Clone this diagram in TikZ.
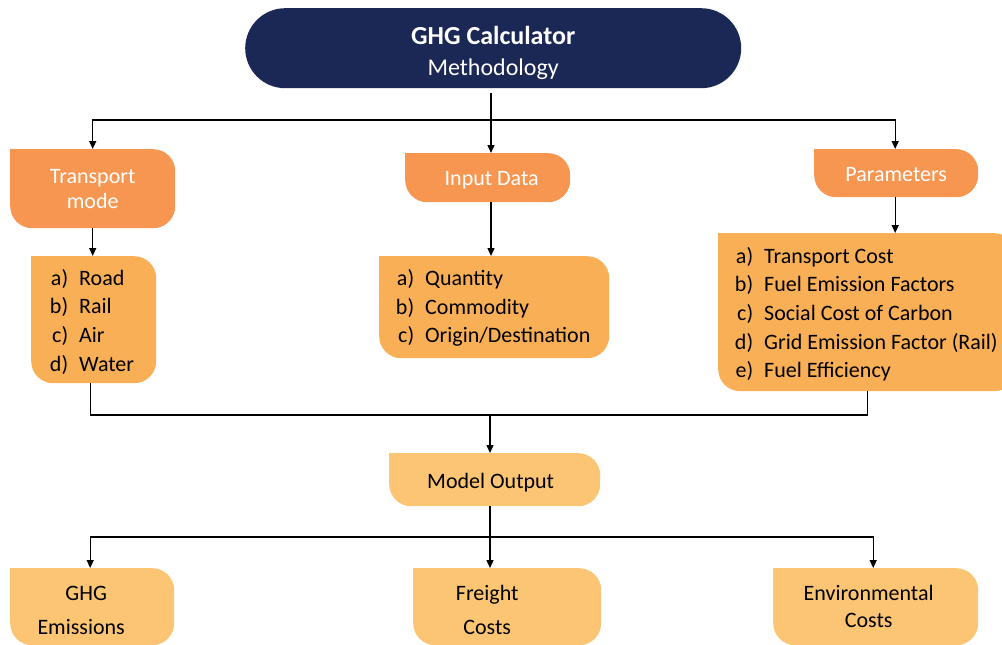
\documentclass[tikz,border=0pt]{standalone}
\usepackage{fontspec}
\setmainfont{Carlito}
\usetikzlibrary{arrows.meta}
\pgfdeclarelayer{background}
\pgfsetlayers{background,main}

\definecolor{navy}{HTML}{1B2755}
\definecolor{darkor}{HTML}{F79651}
\definecolor{midor}{HTML}{F9AF55}
\definecolor{lightor}{HTML}{FBC574}

\tikzset{
  box/.style={inner sep=0pt, anchor=north west, rounded corners=22pt, align=center},
  headbox/.style={box, fill=darkor, text=white, font=\fontsize{22}{26}\selectfont},
  listbox/.style={box, fill=midor},
  outbox/.style={box, fill=lightor, font=\fontsize{22}{26}\selectfont},
  listtext/.style={inner sep=0pt, anchor=west, align=left, font=\fontsize{22}{28.6}\selectfont},
  wire/.style={line width=1.4pt},
  arr/.style={wire, -{Triangle[width=7pt,length=8pt]}},
}

% square off the upper left corner of a box
\newcommand\sqcorner[2]{%
  \begin{pgfonlayer}{background}
    \fill[#2] (#1.north west) rectangle (#1.center);
  \end{pgfonlayer}}
\newcommand\itm[2]{\makebox[18pt][r]{#1}\hspace{11pt}#2}
% invisible strut that lowers a line of text inside its box
\newcommand\lift[1]{\rule{0pt}{#1}}
% moves a centred line sideways by half the given amount
\newcommand\nudge[1]{\kern#1\relax}

\begin{document}
\begin{tikzpicture}[x=1pt,y=-1pt]
\useasboundingbox (0,0) rectangle (1002,645);
\clip (0,0) rectangle (1002,645);

% title
\node[inner sep=0pt, anchor=north west, fill=navy, rounded corners=40pt,
      minimum width=496pt, minimum height=80pt, text=white, align=center,
      font=\fontsize{24}{31}\selectfont] (title) at (245,8)
      {\lift{28pt}{\fontsize{26}{31}\selectfont\bfseries GHG Calculator}\\Methodology};

% first level
\node[headbox, minimum width=165pt, minimum height=79pt] (tm) at (10,149) {Transport\\[-1pt]mode};
\sqcorner{tm}{darkor}
\node[headbox, minimum width=165pt, minimum height=49pt] (indata) at (405,153) {\lift{20pt}\nudge{8pt}Input Data};
\sqcorner{indata}{darkor}
\node[headbox, minimum width=164pt, minimum height=48pt] (param) at (814,149) {\lift{17pt}Parameters};
\sqcorner{param}{darkor}

% lists
\node[listbox, minimum width=125pt, minimum height=127pt] (tml) at (31,256) {};
\sqcorner{tml}{midor}
\node[listtext] (tmt) at ([xshift=19pt,yshift=-2pt]tml.west)
  {\itm{a)}{Road}\\\itm{b)}{Rail}\\\itm{c)}{Air}\\\itm{d)}{Water}};

\node[listbox, minimum width=230pt, minimum height=102pt] (inl) at (379,256) {};
\sqcorner{inl}{midor}
\node[listtext] (int) at ([xshift=17pt,yshift=-1pt]inl.west)
  {\itm{a)}{Quantity}\\\itm{b)}{Commodity}\\\itm{c)}{Origin/Destination}};

\node[listbox, minimum width=298pt, minimum height=158pt] (pal) at (718,233) {};
\sqcorner{pal}{midor}
\node[listtext] (pat) at ([xshift=17pt,yshift=-2pt]pal.west)
  {\itm{a)}{Transport Cost}\\\itm{b)}{Fuel Emission Factors}\\\itm{c)}{Social Cost of Carbon}\\\itm{d)}{Grid Emission Factor (Rail)}\\\itm{e)}{Fuel Efficiency}};

% model output
\node[outbox, minimum width=211pt, minimum height=53pt] (model) at (389,453) {\lift{22pt}\nudge{-8pt}Model Output};
\sqcorner{model}{lightor}

% results
\node[outbox, minimum width=164pt, minimum height=77pt, font=\fontsize{22}{34}\selectfont] (ghg) at (10,568)
  {\lift{21pt}\nudge{-12pt}GHG\\\nudge{-22pt}Emissions};
\sqcorner{ghg}{lightor}
\node[outbox, minimum width=188pt, minimum height=77pt, font=\fontsize{22}{34}\selectfont] (fre) at (413,568)
  {\lift{22pt}\nudge{-40pt}Freight\\\nudge{-40pt}Costs};
\sqcorner{fre}{lightor}
\node[outbox, minimum width=205pt, minimum height=77pt, font=\fontsize{22}{27}\selectfont] (env) at (773,568)
  {\nudge{-14pt}Environmental\\\nudge{-14pt}Costs};
\sqcorner{env}{lightor}

% junction points
\coordinate (j1) at (491,120);
\coordinate (j2) at (490,415);
\coordinate (j3) at (490,537);

% title to first level
\draw[wire] ([yshift=-5pt]title.south -| j1) -- (j1);
\draw[arr] (j1) -| (tm.north);
\draw[arr] (j1) -- (indata.north -| j1);
\draw[arr] (j1) -| ([xshift=-1pt]param.north);

% first level to lists
\draw[arr] (tm.south) -- (tml.north -| tm.south);
\draw[arr] (indata.south -| j1) -- (inl.north -| j1);
\draw[arr] ([xshift=-1pt]param.south) -- ([xshift=-1pt]param.south |- pal.north);

% lists merge into model output
\draw[wire] ([xshift=-3.5pt]tml.south) |- (j2) -| (pal.south);
\draw[arr] (j2) -- (model.north -| j2);

% model output to results
\draw[wire] (model.south -| j3) -- (j3);
\draw[arr] (j3) -| ([xshift=-2pt]ghg.north);
\draw[arr] (j3) -- (fre.north -| j3);
\draw[arr] (j3) -| ([xshift=-2.5pt]env.north);
\end{tikzpicture}
\end{document}
